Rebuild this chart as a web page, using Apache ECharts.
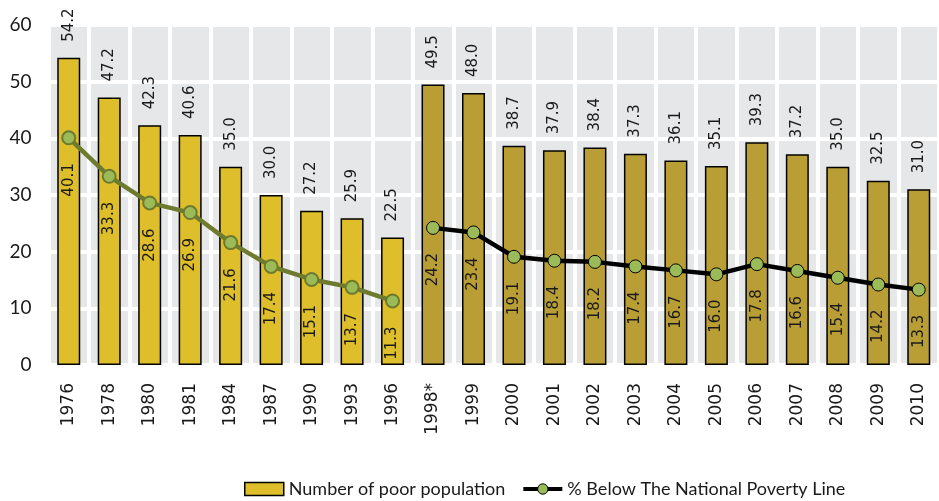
<!DOCTYPE html>
<html>
<head>
<meta charset="utf-8">
<script src="https://cdn.jsdelivr.net/npm/echarts@6/dist/echarts.min.js"></script>
<style>
  html, body { margin: 0; padding: 0; background: #ffffff; }
  #chart { width: 939px; height: 501px; }
</style>
</head>
<body>
<div id="chart"></div>
<script>
// Survey years (1998* marks the break in the poverty-line methodology)
var years = ['1976', '1978', '1980', '1981', '1984', '1987', '1990', '1993', '1996',
             '1998*', '1999', '2000', '2001', '2002', '2003', '2004', '2005', '2006',
             '2007', '2008', '2009', '2010'];

// Number of poor population (millions)
var poorPopulation = [54.2, 47.2, 42.3, 40.6, 35.0, 30.0, 27.2, 25.9, 22.5,
                      49.5, 48.0, 38.7, 37.9, 38.4, 37.3, 36.1, 35.1, 39.3,
                      37.2, 35.0, 32.5, 31.0];

// Share of population below the national poverty line (%)
var belowLine = [40.1, 33.3, 28.6, 26.9, 21.6, 17.4, 15.1, 13.7, 11.3,
                 24.2, 23.4, 19.1, 18.4, 18.2, 17.4, 16.7, 16.0, 17.8,
                 16.6, 15.4, 14.2, 13.3];

// Y-axis ticks
var yTicks = [0, 10, 20, 30, 40, 50, 60];

// Index of the first year of the new methodology
var breakIndex = years.indexOf('1998*');

var BAR_OLD = '#DEBE2A';
var BAR_NEW = '#B89E35';
var LINE_OLD = '#6E7A2E';
var LINE_NEW = '#000000';
var MARKER = '#9BBB59';
var TEXT = '#1a1a1a';
var LABEL_FONT = '"DejaVu Sans", Verdana, sans-serif';
var LINE_NAME = '% Below The National Poverty Line';
var BAR_NAME = 'Number of poor population';

var barData = poorPopulation.map(function (v, i) {
  return {
    value: v,
    itemStyle: { color: i < breakIndex ? BAR_OLD : BAR_NEW }
  };
});

var lineOld = belowLine.map(function (v, i) { return i < breakIndex ? v : '-'; });
var lineNew = belowLine.map(function (v, i) { return i >= breakIndex ? v : '-'; });

var fmt = function (p) { return Number(p.value).toFixed(1); };

var lineLabel = {
  show: true,
  position: 'bottom',
  distance: 18,
  rotate: 90,
  align: 'right',
  verticalAlign: 'middle',
  fontFamily: LABEL_FONT,
  fontSize: 15,
  color: TEXT,
  formatter: fmt
};

var chart = echarts.init(document.getElementById('chart'), null, { renderer: 'canvas' });

chart.setOption({
  animation: false,
  grid: {
    left: 48.5,
    top: 25,
    bottom: 136,
    width: 903.5,
    show: true,
    backgroundColor: '#E6E7E8',
    borderWidth: 0
  },
  legend: {
    left: 239,
    top: 475,
    itemWidth: 39,
    itemHeight: 13,
    itemGap: 16,
    textStyle: { fontFamily: 'Lato', fontSize: 18, color: TEXT },
    data: [
      {
        name: BAR_NAME,
        icon: 'rect',
        itemStyle: { color: BAR_OLD, borderColor: '#000', borderWidth: 1.5 }
      },
      {
        name: LINE_NAME,
        itemStyle: { color: MARKER, borderColor: '#000', borderWidth: 1 },
        lineStyle: { color: LINE_NEW, width: 4 }
      }
    ]
  },
  xAxis: {
    type: 'category',
    data: years,
    boundaryGap: true,
    axisLine: { show: false },
    axisTick: { show: false },
    axisLabel: {
      interval: 0,
      rotate: 90,
      margin: 18,
      fontFamily: LABEL_FONT,
      fontSize: 17,
      color: TEXT
    },
    splitLine: { show: true, interval: 0, lineStyle: { color: '#ffffff', width: 4 } }
  },
  yAxis: {
    type: 'value',
    min: yTicks[0],
    max: yTicks[yTicks.length - 1],
    interval: yTicks[1] - yTicks[0],
    axisLine: { show: false },
    axisTick: { show: false },
    axisLabel: {
      margin: 17,
      fontFamily: 'Lato',
      fontSize: 19,
      color: TEXT
    },
    splitLine: { show: true, lineStyle: { color: '#ffffff', width: 4 } }
  },
  series: [
    {
      name: BAR_NAME,
      type: 'bar',
      data: barData,
      barWidth: 23,
      itemStyle: { borderColor: '#000', borderWidth: 1.5 },
      label: {
        show: true,
        position: 'top',
        distance: 16,
        rotate: 90,
        align: 'left',
        verticalAlign: 'middle',
        fontFamily: LABEL_FONT,
        fontSize: 15,
        color: TEXT,
        formatter: fmt
      },
      z: 2
    },
    {
      name: LINE_NAME,
      type: 'line',
      data: lineOld,
      symbol: 'circle',
      symbolSize: 13,
      lineStyle: { color: LINE_OLD, width: 4.5 },
      itemStyle: { color: MARKER, borderColor: LINE_OLD, borderWidth: 2 },
      label: lineLabel,
      z: 3
    },
    {
      name: LINE_NAME,
      type: 'line',
      data: lineNew,
      symbol: 'circle',
      symbolSize: 13,
      lineStyle: { color: LINE_NEW, width: 4.5 },
      itemStyle: { color: MARKER, borderColor: '#000', borderWidth: 1 },
      label: lineLabel,
      z: 3
    }
  ]
});
</script>
</body>
</html>
